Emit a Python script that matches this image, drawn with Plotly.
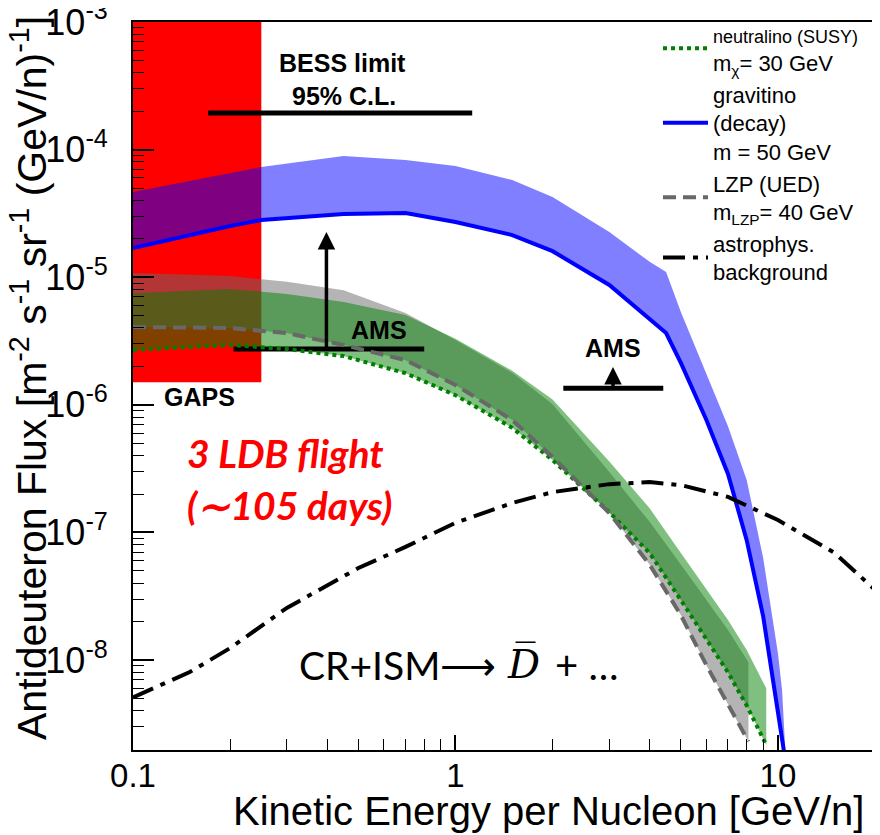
import numpy as np
import plotly.graph_objects as go

# ---------------- data ----------------
# gravitino (decay) m = 50 GeV : central line and upper edge of band
grav_E = [0.1, 0.2, 0.25, 0.45, 0.7, 1.0, 1.5, 2.0, 3.0, 4.0, 4.5, 5.0, 6.0, 7.0, 8.0, 9.0, 10.0, 10.3, 10.6]
grav_mid = [1.69e-5, 2.52e-5, 2.81e-5, 3.13e-5, 3.18e-5, 2.71e-5, 2.14e-5, 1.6e-5, 8.7e-6, 4.7e-6, 3.65e-6,
            2.13e-6, 7.6e-7, 2.87e-7, 8.7e-8, 2.2e-8, 3.7e-9, 2.45e-9, 1.5e-9]
grav_up = [4.66e-5, 6.56e-5, 7.3e-5, 8.9e-5, 8.3e-5, 7.45e-5, 5.78e-5, 4.26e-5, 2.26e-5, 1.32e-5, 1.1e-5,
           5.33e-6, 1.77e-6, 6.8e-7, 2.58e-7, 6.3e-8, 1.13e-8, 5.8e-9, 1.5e-9]

# neutralino (SUSY) m_chi = 30 GeV : central (dotted) and upper edge of band
neut_E = [0.1, 0.2, 0.3, 0.45, 0.7, 1.0, 1.5, 2.0, 3.0, 4.0, 5.0, 6.0, 7.0, 8.0, 9.2]
neut_mid = [2.69e-6, 2.94e-6, 2.74e-6, 2.41e-6, 1.77e-6, 1.19e-6, 6.6e-7, 3.69e-7, 1.44e-7, 6.9e-8,
            2.95e-8, 1.46e-8, 8.0e-9, 4.4e-9, 2.16e-9]
neut_up = [7.5e-6, 8.1e-6, 7.4e-6, 6.4e-6, 5.06e-6, 3.3e-6, 1.85e-6, 1.1e-6, 3.6e-7, 1.55e-7,
           6.9e-8, 3.55e-8, 2.06e-8, 1.2e-8, 6.0e-9]

# LZP (UED) m_LZP = 40 GeV : central (dashed) and upper edge of band
lzp_E = [0.1, 0.2, 0.3, 0.45, 0.7, 1.0, 1.5, 2.0, 3.0, 4.0, 5.0, 6.0, 7.0, 8.1]
lzp_mid = [4.07e-6, 4.0e-6, 3.65e-6, 2.94e-6, 2.24e-6, 1.43e-6, 7.6e-7, 3.9e-7, 1.42e-7, 5.6e-8,
           2.25e-8, 9.1e-9, 4.5e-9, 2.3e-9]
lzp_up = [1.08e-5, 1.02e-5, 9.2e-6, 7.9e-6, 5.24e-6, 3.22e-6, 1.78e-6, 1.01e-6, 2.97e-7, 1.21e-7,
          5.6e-8, 2.95e-8, 1.72e-8, 9.6e-9]

# astrophysical background
bg_E = [0.1, 0.15, 0.2, 0.3, 0.5, 0.7, 1.0, 1.5, 2.0, 3.0, 4.0, 5.0, 7.0, 10.0, 15.0, 20.0]
bg_flux = [5.1e-9, 8.05e-9, 1.24e-8, 2.56e-8, 5.26e-8, 7.7e-8, 1.19e-7, 1.70e-7, 2.07e-7, 2.39e-7,
           2.48e-7, 2.35e-7, 1.9e-7, 1.25e-7, 6.9e-8, 3.55e-8]

# GAPS sensitivity region (E range, flux floor)
gaps_E = [0.08, 0.25]
gaps_flux = [1.5e-6, 2e-3]

# BESS 95% C.L. limit
bess_E = [0.171, 1.127]
bess_flux = [1.94e-4, 1.94e-4]

# AMS sensitivities (low and high energy)
ams1_E = [0.205, 0.80]
ams1_flux = [2.74e-6, 2.74e-6]
ams1_arrow_E = 0.398
ams1_arrow_top = 2.26e-5
ams2_E = [2.16, 4.41]
ams2_flux = [1.35e-6, 1.35e-6]
ams2_arrow_E = 3.08
ams2_arrow_top = 1.98e-6

x_ticks = [0.1, 1, 10]
x_ticktext = ["0.1", "1", "10"]
y_ticks = [1e-8, 1e-7, 1e-6, 1e-5, 1e-4, 1e-3]
y_ticktext = ["10<sup>-8</sup>", "10<sup>-7</sup>", "10<sup>-6</sup>", "10<sup>-5</sup>",
              "10<sup>-4</sup>", "10<sup>-3</sup>"]

# ---------------- figure ----------------
FONT = "Liberation Sans, Arial, sans-serif"
fig = go.Figure()


def band(xs, lo, hi, color):
    xx = list(xs) + list(xs)[::-1]
    yy = list(hi) + list(lo)[::-1]
    return go.Scatter(x=xx, y=yy, fill="toself", fillcolor=color, mode="lines",
                      line=dict(width=0), showlegend=False, hoverinfo="skip")


# GAPS red box
fig.add_trace(go.Scatter(x=[gaps_E[0], gaps_E[1], gaps_E[1], gaps_E[0]],
                         y=[gaps_flux[0], gaps_flux[0], gaps_flux[1], gaps_flux[1]],
                         fill="toself", fillcolor="#ff0000", mode="lines", line=dict(width=0),
                         showlegend=False, hoverinfo="skip"))

# bands
fig.add_trace(band(lzp_E, lzp_mid, lzp_up, "rgba(105,105,105,0.5)"))
fig.add_trace(band(neut_E, neut_mid, neut_up, "rgba(0,128,0,0.5)"))
fig.add_trace(band(grav_E, grav_mid, grav_up, "rgba(0,0,255,0.5)"))

# experimental limits
for xs, ys in [(bess_E, bess_flux), (ams1_E, ams1_flux), (ams2_E, ams2_flux)]:
    fig.add_trace(go.Scatter(x=xs, y=ys, mode="lines", line=dict(color="black", width=5),
                             showlegend=False, hoverinfo="skip"))

# model lines (legend)
fig.add_trace(go.Scatter(x=neut_E, y=neut_mid, mode="lines",
                         line=dict(color="#008000", width=4, dash="4px,4px"),
                         name="<span style='font-size:18px'>neutralino (SUSY)</span><br>m<sub>χ</sub>= 30 GeV"))
fig.add_trace(go.Scatter(x=grav_E, y=grav_mid, mode="lines",
                         line=dict(color="#0000ff", width=4),
                         name="gravitino<br>(decay)<br>m = 50 GeV"))
fig.add_trace(go.Scatter(x=lzp_E, y=lzp_mid, mode="lines",
                         line=dict(color="#686868", width=4, dash="13px,7px"),
                         name="LZP (UED)<br>m<sub>LZP</sub>= 40 GeV"))
fig.add_trace(go.Scatter(x=bg_E, y=bg_flux, mode="lines",
                         line=dict(color="black", width=4, dash="22px,8px,5px,8px"),
                         name="astrophys.<br>background"))

# arrows for AMS
for xa, y0, y1 in [(ams1_arrow_E, ams1_flux[0], ams1_arrow_top), (ams2_arrow_E, ams2_flux[0], ams2_arrow_top)]:
    fig.add_annotation(x=np.log10(xa), y=np.log10(y1), ax=np.log10(xa), ay=np.log10(y0),
                       xref="x", yref="y", axref="x", ayref="y", text="", showarrow=True,
                       arrowhead=2, arrowsize=1, arrowwidth=3.5, arrowcolor="black")

# plot area in page pixels: x 133..875, y 22..750
def ptext(x_px, y_px, text, size, color="black", xanchor="center", family=FONT, **kw):
    fig.add_annotation(x=(x_px - 133) / 742, y=(750 - y_px) / 728, xref="paper", yref="paper",
                       text=text, showarrow=False, xanchor=xanchor, yanchor="middle",
                       font=dict(size=size, color=color, family=family), **kw)


ptext(342, 63, "<b>BESS limit</b>", 25)
ptext(344, 96, "<b>95% C.L.</b>", 25)
ptext(379, 330, "<b>AMS</b>", 25)
ptext(613, 348, "<b>AMS</b>", 25)
ptext(199, 397, "<b>GAPS</b>", 25)
ptext(185, 453, "<b><i>3 LDB flight</i></b>", 39, color="#ff0000", xanchor="left", family="Lato, sans-serif")
ptext(185, 505, "<b><i>(∼105 days)</i></b>", 39, color="#ff0000", xanchor="left", family="Lato, sans-serif")
ptext(297, 665, "CR+ISM⟶", 39, xanchor="left", family="Lato, sans-serif")
ptext(523, 664, "<i>D̅</i>", 40, family="DejaVu Serif, serif")
ptext(553, 665, "+ …", 40, xanchor="left", family="Lato, sans-serif")

# axis titles
ptext(548, 811, "Kinetic Energy per Nucleon [GeV/n]", 40)
fig.add_annotation(x=(29 - 133) / 742, y=(750 - 378) / 728, xref="paper", yref="paper",
                   text="Antideuteron Flux [m<sup>-2</sup> s<sup>-1</sup> sr<sup>-1</sup> (GeV/n)<sup>-1</sup>]",
                   textangle=-90, showarrow=False, xanchor="center", yanchor="middle",
                   font=dict(size=41, color="black", family=FONT))

x_minor = [m * 10.0 ** k for k in (-1, 0) for m in range(2, 10)]
y_minor = [m * 10.0 ** k for k in range(-9, -3) for m in range(2, 10)]

fig.update_xaxes(type="log", range=[-1, np.log10(20)], tickvals=x_ticks, ticktext=x_ticktext,
                 ticks="inside", ticklen=15, tickwidth=1.5, tickcolor="black",
                 minor=dict(tickvals=x_minor, ticks="inside", ticklen=11, tickwidth=1.2, tickcolor="black"),
                 showline=True, linecolor="black", linewidth=2, mirror=True, showgrid=False, zeroline=False,
                 tickfont=dict(size=33, color="black", family=FONT), ticklabelstandoff=-5,
                 automargin=False, ticklabeloverflow="allow")
fig.update_yaxes(type="log", range=[-8.705, -3], tickvals=y_ticks, ticktext=y_ticktext,
                 ticks="inside", ticklen=21, tickwidth=1.5, tickcolor="black",
                 minor=dict(tickvals=y_minor, ticks="inside", ticklen=11, tickwidth=1.2, tickcolor="black"),
                 showline=True, linecolor="black", linewidth=2, mirror=True, showgrid=False, zeroline=False,
                 tickfont=dict(size=36, color="black", family=FONT), ticklabelstandoff=16,
                 automargin=False, ticklabeloverflow="allow")

# the page body keeps an 8px margin, so the figure is 8px smaller and the margins shifted
fig.update_layout(width=872, height=827, margin=dict(l=125, r=5, t=14, b=85, autoexpand=False),
                  plot_bgcolor="white", paper_bgcolor="white",
                  legend=dict(x=(658 - 133) / 742, y=1.012, xanchor="left", yanchor="top",
                              bgcolor="rgba(0,0,0,0)", itemwidth=45, tracegroupgap=0,
                              font=dict(size=22, color="black", family=FONT)),
                  showlegend=True)

fig.write_html("out.html")
